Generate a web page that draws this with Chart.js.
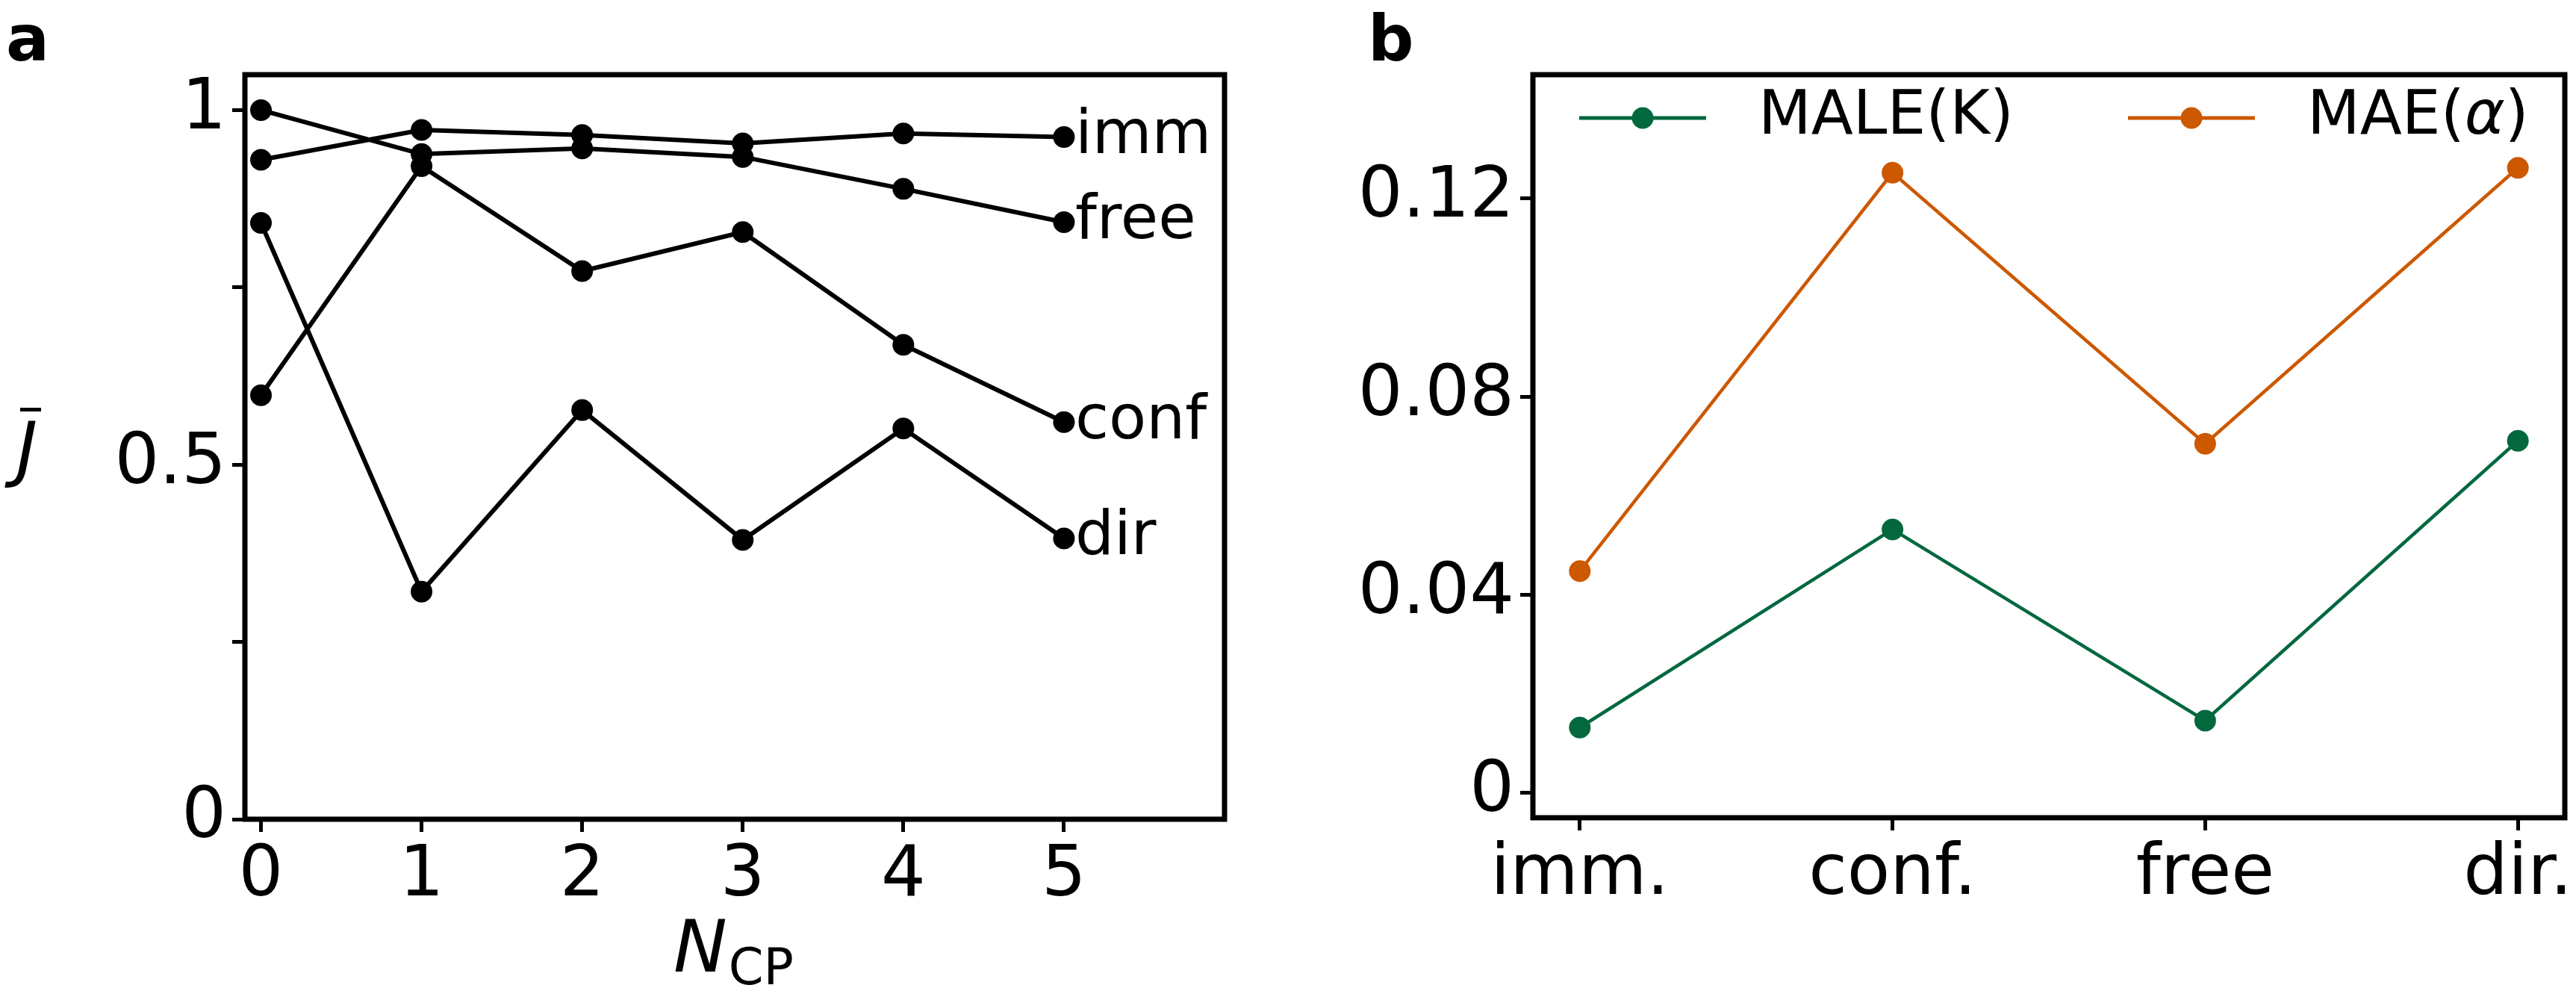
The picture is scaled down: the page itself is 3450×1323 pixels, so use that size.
<!DOCTYPE html>
<html>
<head>
<meta charset="utf-8">
<script src="https://cdn.jsdelivr.net/npm/chart.js@4.4.0/dist/chart.umd.min.js"></script>
<style>
html, body { margin: 0; padding: 0; background: #fff; }
#wrap { position: relative; width: 3450px; height: 1323px; overflow: hidden; }
.panel { position: absolute; top: 0; height: 1323px; }
</style>
</head>
<body>
<div id="wrap">
  <div class="panel" style="left:0;width:1720px"><canvas id="chart-a"></canvas></div>
  <div class="panel" style="left:1720px;width:1730px"><canvas id="chart-b"></canvas></div>
</div>
<script>
// panel a: mean J vs number of change points
const nCP = [0, 1, 2, 3, 4, 5];
const jImm = [0.930, 0.972, 0.965, 0.953, 0.967, 0.962];
const jFree = [1.000, 0.938, 0.946, 0.934, 0.889, 0.842];
const jConf = [0.598, 0.921, 0.773, 0.828, 0.669, 0.560];
const jDir = [0.841, 0.321, 0.577, 0.394, 0.551, 0.396];
const seriesNamesA = ['imm', 'free', 'conf', 'dir'];
const yTicksA = [0, 0.25, 0.5, 0.75, 1];
const yTickLabelsA = {0: '0', 0.5: '0.5', 1: '1'};

// panel b: errors per diffusion type
const diffTypes = ['imm.', 'conf.', 'free', 'dir.'];
const maleK = [0.0132, 0.0532, 0.0146, 0.0711];
const maeAlpha = [0.0448, 0.1252, 0.0705, 0.1262];
const seriesNamesB = ['MALE(K)', 'MAE(α)'];
const yTicksB = [0, 0.04, 0.08, 0.12];

const FONT = '"DejaVu Sans", sans-serif';
Chart.defaults.font.family = FONT;
Chart.defaults.color = '#000';

const green = '#04683f';
const orange = '#cc5800';

function toPoints(xs, ys) {
    return xs.map(function (x, i) { return { x: x, y: ys[i] }; });
}

// box round the plot area (all four spines)
const framePlugin = {
    id: 'frame',
    afterDatasetsDraw(chart) {
        const a = chart.chartArea;
        const ctx = chart.ctx;
        ctx.save();
        ctx.strokeStyle = '#000';
        ctx.lineWidth = 7;
        ctx.strokeRect(a.left, a.top, a.right - a.left, a.bottom - a.top);
        ctx.restore();
    }
};

// draw a string, with α in italic
function drawMixed(ctx, text, x, y, size) {
    const parts = text.split(/(α)/);
    parts.forEach(function (p) {
        if (!p) return;
        ctx.font = (p === 'α' ? 'italic ' : '') + size + 'px ' + FONT;
        ctx.fillText(p, x, y);
        x += ctx.measureText(p).width;
    });
}

// series names written next to the last point (panel a)
const endLabelPlugin = {
    id: 'endLabels',
    afterDatasetsDraw(chart) {
        const ctx = chart.ctx;
        ctx.save();
        ctx.fillStyle = '#000';
        ctx.font = '82px ' + FONT;
        ctx.textAlign = 'left';
        ctx.textBaseline = 'middle';
        chart.data.datasets.forEach(function (ds, i) {
            const pts = chart.getDatasetMeta(i).data;
            const last = pts[pts.length - 1];
            ctx.fillText(ds.label, last.x + 15, last.y);
        });
        ctx.restore();
    }
};

// matplotlib-like legend: line with marker in the middle (panel b)
const lineLegendPlugin = {
    id: 'lineLegend',
    afterDatasetsDraw(chart) {
        const ctx = chart.ctx;
        const a = chart.chartArea;
        const offsets = [62, 797];
        const y = a.top + 58;
        ctx.save();
        chart.data.datasets.forEach(function (ds, i) {
            const x0 = a.left + offsets[i];
            ctx.strokeStyle = ds.borderColor;
            ctx.lineWidth = 5;
            ctx.beginPath();
            ctx.moveTo(x0, y);
            ctx.lineTo(x0 + 170, y);
            ctx.stroke();
            ctx.fillStyle = ds.borderColor;
            ctx.beginPath();
            ctx.arc(x0 + 85, y, 14.5, 0, Math.PI * 2);
            ctx.fill();
            ctx.fillStyle = '#000';
            ctx.textAlign = 'left';
            ctx.textBaseline = 'middle';
            drawMixed(ctx, ds.label, x0 + 240, y, 82);
        });
        ctx.restore();
    }
};

// panel letters and axis titles
const titlesPlugin = {
    id: 'titles',
    afterDraw(chart, args, opts) {
        const ctx = chart.ctx;
        ctx.save();
        ctx.fillStyle = '#000';
        ctx.textAlign = 'left';
        ctx.textBaseline = 'alphabetic';
        ctx.font = 'bold 86px ' + FONT;
        ctx.fillText(opts.letter, opts.letterX, 81);
        if (opts.axisTitles) {
            // y title: J with a bar
            ctx.font = 'italic 96px ' + FONT;
            ctx.fillText('J', 22, 634);
            ctx.fillRect(27, 546, 28, 5);
            // x title: N with subscript CP
            ctx.font = 'italic 96px ' + FONT;
            ctx.fillText('N', 902, 1301);
            const w = ctx.measureText('N').width;
            ctx.font = '67px ' + FONT;
            ctx.fillText('CP', 902 + w + 2, 1318);
        }
        ctx.restore();
    }
};

function axisStyle(size) {
    return {
        border: { display: false },
        grid: {
            drawOnChartArea: false,
            drawTicks: true,
            tickLength: 17,
            tickWidth: 5,
            tickColor: '#000'
        },
        ticks: {
            autoSkip: false,
            maxRotation: 0,
            minRotation: 0,
            color: '#000',
            font: { size: size }
        }
    };
}

// ---- panel a ----
const dataA = [jImm, jFree, jConf, jDir];
const datasetsA = dataA.map(function (vals, i) {
    return {
        label: seriesNamesA[i],
        data: toPoints(nCP, vals),
        showLine: true,
        borderColor: '#000',
        backgroundColor: '#000',
        borderWidth: 6,
        pointRadius: 14.5,
        pointHoverRadius: 14.5,
        pointBorderWidth: 0,
        tension: 0
    };
});

const xA = axisStyle(94);
xA.type = 'linear';
xA.min = -0.1;
xA.max = 6;
xA.ticks.padding = 4;
xA.ticks.callback = function (v) { return String(v); };
xA.afterBuildTicks = function (s) { s.ticks = nCP.map(function (v) { return { value: v }; }); };
xA.afterFit = function (s) { s.height = 226; };

const yA = axisStyle(94);
yA.type = 'linear';
yA.min = 0;
yA.max = 1.05;
yA.ticks.padding = 8;
yA.ticks.callback = function (v) { return yTickLabelsA[v] !== undefined ? yTickLabelsA[v] : ''; };
yA.afterBuildTicks = function (s) { s.ticks = yTicksA.map(function (v) { return { value: v }; }); };
yA.afterFit = function (s) { s.width = 328; };

new Chart(document.getElementById('chart-a').getContext('2d'), {
    type: 'scatter',
    data: { datasets: datasetsA },
    options: {
        responsive: true,
        maintainAspectRatio: false,
        animation: false,
        layout: { padding: { top: 100, right: 80, left: 0, bottom: 0 } },
        scales: { x: xA, y: yA },
        plugins: {
            legend: { display: false },
            tooltip: { enabled: false },
            titles: { letter: 'a', letterX: 8, axisTitles: true }
        }
    },
    plugins: [framePlugin, endLabelPlugin, titlesPlugin]
});

// ---- panel b ----
const idxB = diffTypes.map(function (d, i) { return i; });
const datasetsB = [maleK, maeAlpha].map(function (vals, i) {
    const c = i === 0 ? green : orange;
    return {
        label: seriesNamesB[i],
        data: toPoints(idxB, vals),
        showLine: true,
        borderColor: c,
        backgroundColor: c,
        borderWidth: 4.5,
        pointRadius: 14.5,
        pointHoverRadius: 14.5,
        pointBorderWidth: 0,
        tension: 0
    };
});

const xB = axisStyle(94);
xB.type = 'linear';
xB.min = -0.15;
xB.max = 3.15;
xB.ticks.padding = 4;
xB.ticks.callback = function (v) { return diffTypes[v]; };
xB.afterBuildTicks = function (s) { s.ticks = idxB.map(function (v) { return { value: v }; }); };
xB.afterFit = function (s) { s.height = 228; };

const yB = axisStyle(94);
yB.type = 'linear';
yB.min = -0.005;
yB.max = 0.145;
yB.ticks.padding = 8;
yB.ticks.callback = function (v) { return v === 0 ? '0' : String(v); };
yB.afterBuildTicks = function (s) { s.ticks = yTicksB.map(function (v) { return { value: v }; }); };
yB.afterFit = function (s) { s.width = 333; };

new Chart(document.getElementById('chart-b').getContext('2d'), {
    type: 'scatter',
    data: { datasets: datasetsB },
    options: {
        responsive: true,
        maintainAspectRatio: false,
        animation: false,
        layout: { padding: { top: 100, right: 15, left: 0, bottom: 0 } },
        scales: { x: xB, y: yB },
        plugins: {
            legend: { display: false },
            tooltip: { enabled: false },
            titles: { letter: 'b', letterX: 112, axisTitles: false }
        }
    },
    plugins: [framePlugin, lineLegendPlugin, titlesPlugin]
});
</script>
</body>
</html>
